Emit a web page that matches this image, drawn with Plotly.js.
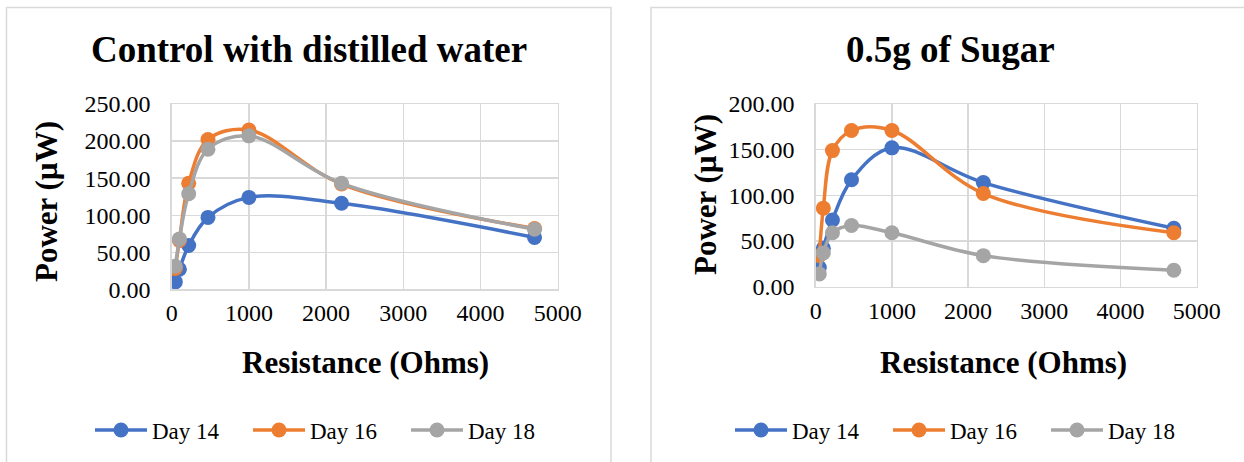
<!DOCTYPE html>
<html><head><meta charset="utf-8">
<script src="https://cdn.plot.ly/plotly-3.0.1.min.js"></script>
<style>html,body{margin:0;padding:0;background:#fff;}#chart{width:1244px;height:462px;}</style>
</head><body><div id="chart"></div>
<script>
const resistance = [47, 100, 220, 470, 1000, 2200, 4700];
const seriesNames = ["Day 14", "Day 16", "Day 18"];
const ctrlDay14 = [10, 27, 59, 97, 124, 116, 70];
const ctrlDay16 = [28, 66, 143, 202, 215, 142, 82];
const ctrlDay18 = [31, 68, 129, 189, 207, 143, 81];
const sugarDay14 = [21, 42, 73, 117, 152, 114, 64];
const sugarDay16 = [34, 86, 149, 171, 171, 102, 59];
const sugarDay18 = [14, 37, 59, 67, 59, 34, 18];
const chartTitles = ["Control with distilled water", "0.5g of Sugar"];
const xTitle = "Resistance (Ohms)";
const yTitle = "Power (µW)";

const colors = ["#4472C4", "#ED7D31", "#A5A5A5"];
const W = 1244, H = 462;
const px = v => v / W, py = v => 1 - v / H;
const FONT = "Liberation Serif";

function mk(y, i, ax, leg) {
  return {
    x: resistance, y: y, name: seriesNames[i], type: "scatter", mode: "lines+markers",
    line: {color: colors[i], width: 3.5, shape: "spline", smoothing: 1},
    marker: {color: colors[i], size: 15},
    xaxis: ax === 1 ? "x" : "x2", yaxis: ax === 1 ? "y" : "y2", legend: leg
  };
}
const traces = [
  mk(ctrlDay14, 0, 1, "legend"), mk(ctrlDay16, 1, 1, "legend"), mk(ctrlDay18, 2, 1, "legend"),
  mk(sugarDay14, 0, 2, "legend2"), mk(sugarDay16, 1, 2, "legend2"), mk(sugarDay18, 2, 2, "legend2")
];

const gridC = "#D9D9D9";
function xa(d) {
  return {domain: d, range: [0, 5000], dtick: 1000, showgrid: true, gridcolor: gridC, gridwidth: 1.3,
    zeroline: false, showline: true, mirror: true, linecolor: gridC, linewidth: 1.3,
    ticks: "outside", ticklen: 2, tickcolor: "rgba(0,0,0,0)", tickfont: {family: FONT, size: 24, color: "#000"},
    fixedrange: true};
}
function ya(d, max, anchor) {
  return {domain: d, range: [0, max], dtick: 50, tickformat: ".2f", showgrid: true, gridcolor: gridC, gridwidth: 1.3,
    zeroline: false, showline: true, mirror: true, linecolor: gridC, linewidth: 1.3, anchor: anchor,
    ticks: "outside", ticklen: 15, tickcolor: "rgba(0,0,0,0)", tickfont: {family: FONT, size: 24, color: "#000"},
    fixedrange: true};
}
const legFont = {family: FONT, size: 23, color: "#000"};

const layout = {
  width: W, height: H, margin: {l: 0, r: 0, t: 0, b: 0, autoexpand: false}, paper_bgcolor: "#fff", plot_bgcolor: "#fff",
  font: {family: FONT, color: "#000"},
  showlegend: true,
  xaxis: Object.assign(xa([px(171.7), px(557.7)]), {anchor: "y"}),
  yaxis: ya([py(289.3), py(104)], 250, "x"),
  xaxis2: Object.assign(xa([px(815.7), px(1196.7)]), {anchor: "y2"}),
  yaxis2: ya([py(286.7), py(104)], 200, "x2"),
  legend: {orientation: "h", x: px(90), y: py(430), xanchor: "left", yanchor: "middle",
    font: legFont, itemwidth: 52, entrywidth: 91, entrywidthmode: "pixels", bgcolor: "rgba(0,0,0,0)"},
  legend2: {orientation: "h", x: px(730), y: py(430), xanchor: "left", yanchor: "middle",
    font: legFont, itemwidth: 52, entrywidth: 91, entrywidthmode: "pixels", bgcolor: "rgba(0,0,0,0)"},
  shapes: [
    {type: "rect", xref: "paper", yref: "paper", x0: px(6.5), x1: px(611), y0: -0.1, y1: py(7.5),
      line: {color: "#D9D9D9", width: 1.5}},
    {type: "rect", xref: "paper", yref: "paper", x0: px(651), x1: 1.1, y0: -0.1, y1: py(7.5),
      line: {color: "#D9D9D9", width: 1.5}}
  ],
  annotations: [
    {text: "<b>" + chartTitles[0] + "</b>", xref: "paper", yref: "paper", x: px(309), y: py(49), showarrow: false,
      font: {family: FONT, size: 37, color: "#000"}, xanchor: "center", yanchor: "middle"},
    {text: "<b>" + chartTitles[1] + "</b>", xref: "paper", yref: "paper", x: px(950), y: py(49), showarrow: false,
      font: {family: FONT, size: 37, color: "#000"}, xanchor: "center", yanchor: "middle"},
    {text: "<b>" + xTitle + "</b>", xref: "paper", yref: "paper", x: px(365), y: py(362), showarrow: false,
      font: {family: FONT, size: 31, color: "#000"}, xanchor: "center", yanchor: "middle"},
    {text: "<b>" + xTitle + "</b>", xref: "paper", yref: "paper", x: px(1003), y: py(362), showarrow: false,
      font: {family: FONT, size: 31, color: "#000"}, xanchor: "center", yanchor: "middle"},
    {text: "<b>" + yTitle + "</b>", xref: "paper", yref: "paper", x: px(47), y: py(202), showarrow: false, textangle: -90,
      font: {family: FONT, size: 31, color: "#000"}, xanchor: "center", yanchor: "middle"},
    {text: "<b>" + yTitle + "</b>", xref: "paper", yref: "paper", x: px(705), y: py(195), showarrow: false, textangle: -90,
      font: {family: FONT, size: 31, color: "#000"}, xanchor: "center", yanchor: "middle"}
  ]
};
Plotly.newPlot("chart", traces, layout, {displayModeBar: false, staticPlot: true});
</script></body></html>
